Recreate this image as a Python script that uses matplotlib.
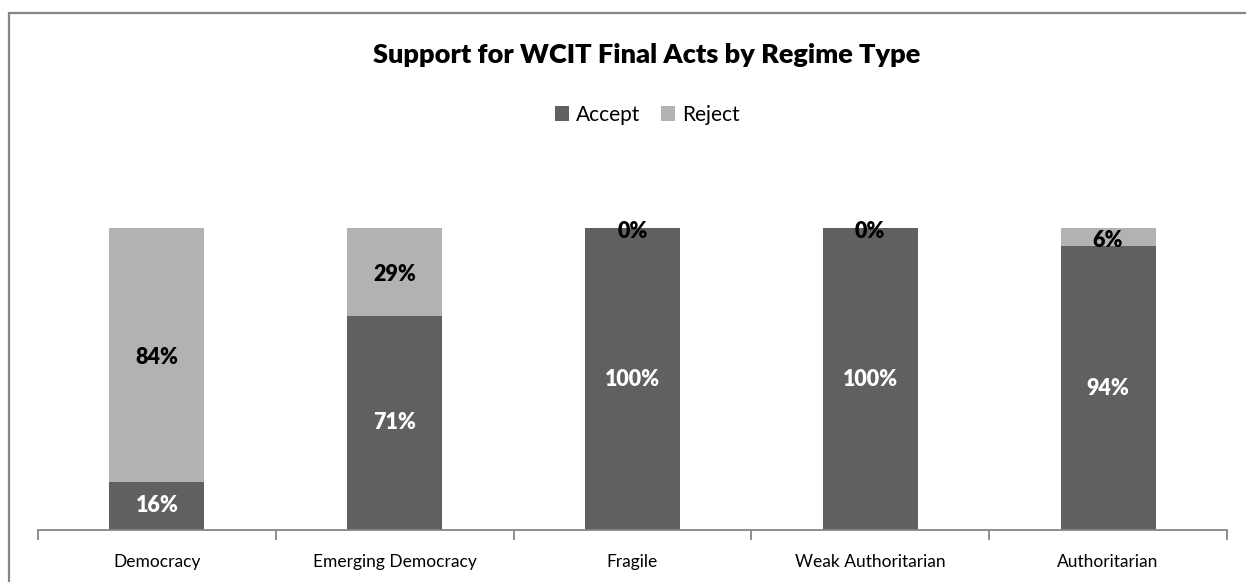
import matplotlib.pyplot as plt
import numpy as np
from matplotlib.patches import Rectangle

plt.rcParams['font.family'] = ['Lato', 'DejaVu Sans']

# Share of each regime type accepting / rejecting the WCIT Final Acts (%)
regimes = ['Democracy', 'Emerging Democracy', 'Fragile', 'Weak Authoritarian', 'Authoritarian']
accept = [16, 71, 100, 100, 94]
reject = [84, 29, 0, 0, 6]

accept_color = '#606060'
reject_color = '#b2b2b2'
axis_gray = '#868686'

W, H = 1246, 582
fig = plt.figure(figsize=(W / 100, H / 100), dpi=100)
fig.patch.set_facecolor('white')

# chart border (left and top edges visible)
fig.add_artist(Rectangle((8.5 / W, -0.1), 1.2, 1.1 - 12.5 / H, transform=fig.transFigure,
                         fill=False, edgecolor=axis_gray, linewidth=1.6))

ax = fig.add_axes([38 / W, 52 / H, (1227 - 38) / W, (530 - 228) / H])

x = np.arange(len(regimes))
width = 0.40
b1 = ax.bar(x, accept, width, color=accept_color, label='Accept', zorder=2)
b2 = ax.bar(x, reject, width, bottom=accept, color=reject_color, label='Reject', zorder=2)

for rect, val in zip(b1, accept):
    ax.text(rect.get_x() + rect.get_width() / 2, rect.get_y() + rect.get_height() / 2,
            f'{val}%', ha='center', va='center', color='white', fontsize=15.5,
            fontweight='heavy', zorder=3)
for rect, val in zip(b2, reject):
    ax.text(rect.get_x() + rect.get_width() / 2, rect.get_y() + rect.get_height() / 2 - 1,
            f'{val}%', ha='center', va='center', color='black', fontsize=15.5,
            fontweight='heavy', zorder=3, clip_on=False)

ax.set_xlim(-0.5, len(regimes) - 0.5)
ax.set_ylim(0, 100)
ax.set_yticks([])
for side in ['top', 'right', 'left']:
    ax.spines[side].set_visible(False)
ax.spines['bottom'].set_color(axis_gray)
ax.spines['bottom'].set_linewidth(1.3)

ax.set_xticks(x)
ax.set_xticklabels(regimes, fontsize=12.5)
ax.tick_params(axis='x', which='major', length=0, pad=17)
ax.set_xticks(np.arange(-0.5, len(regimes)), minor=True)
ax.tick_params(axis='x', which='minor', length=7, width=1.3, color=axis_gray)

cx = 647 / W
fig.text(cx, 1 - 55 / H, 'Support for WCIT Final Acts by Regime Type', ha='center', va='center',
         fontsize=19.5, fontweight='heavy')
fig.legend(handles=[b1, b2], labels=['Accept', 'Reject'], loc='center',
           bbox_to_anchor=(cx, 1 - 115 / H), ncol=2, frameon=False, fontsize=15,
           handlelength=0.7, handleheight=0.7, handletextpad=0.3, columnspacing=1.0)

fig.savefig('out.png', dpi=100)
